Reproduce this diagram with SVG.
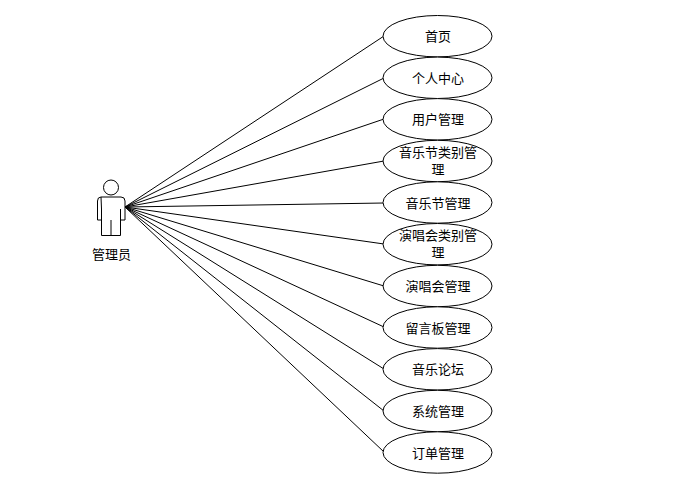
<svg xmlns="http://www.w3.org/2000/svg" width="695" height="480" viewBox="0 0 695 480">
<style>
.l{stroke:#000;stroke-width:1;fill:none}
.e{fill:#fff;stroke:#000;stroke-width:1}
.a{fill:#fff;stroke:#000;stroke-width:1}
text{font-family:"Noto Sans CJK SC","Liberation Sans",sans-serif;font-size:13px;fill:#000;text-anchor:middle}
</style>
<rect width="695" height="480" fill="#fff"/>
<g id="connectors">
<line class="l" x1="125" y1="207" x2="384" y2="36"/>
<line class="l" x1="125" y1="207" x2="384" y2="78"/>
<line class="l" x1="125" y1="207" x2="384" y2="119"/>
<line class="l" x1="125" y1="207" x2="384" y2="161"/>
<line class="l" x1="125" y1="207" x2="384" y2="203"/>
<line class="l" x1="125" y1="207" x2="384" y2="244"/>
<line class="l" x1="125" y1="207" x2="384" y2="286"/>
<line class="l" x1="125" y1="207" x2="384" y2="327"/>
<line class="l" x1="125" y1="207" x2="384" y2="369"/>
<line class="l" x1="125" y1="207" x2="384" y2="411"/>
<line class="l" x1="125" y1="207" x2="384" y2="452"/>
</g>
<g id="actor">
<circle class="a" cx="111" cy="187.500" r="7.500"/>
<path class="a" d="M101 197H121Q125 197 125 201V220H120.500V209M120.500 220V235.500H101.500V220M101.500 209V220H97.500V201Q97.500 197 101 197ZM111 235.500V220"/>
<text x="111.500" y="259">管理员</text>
</g>
<g id="n1"><ellipse class="e" cx="437.500" cy="36.200" rx="54.500" ry="20.700"/><text x="438" y="41">首页</text></g>
<g id="n2"><ellipse class="e" cx="437.500" cy="77.800" rx="54.500" ry="20.700"/><text x="438" y="83">个人中心</text></g>
<g id="n3"><ellipse class="e" cx="437.500" cy="119.300" rx="54.500" ry="20.700"/><text x="438" y="124">用户管理</text></g>
<g id="n4"><ellipse class="e" cx="437.500" cy="161" rx="54.500" ry="20.700"/><text y="157"><tspan x="438">音乐节类别管</tspan><tspan x="438" dy="17">理</tspan></text></g>
<g id="n5"><ellipse class="e" cx="437.500" cy="202.500" rx="54.500" ry="20.700"/><text x="438" y="208">音乐节管理</text></g>
<g id="n6"><ellipse class="e" cx="437.500" cy="244.200" rx="54.500" ry="20.700"/><text y="240"><tspan x="438">演唱会类别管</tspan><tspan x="438" dy="17">理</tspan></text></g>
<g id="n7"><ellipse class="e" cx="437.500" cy="286" rx="54.500" ry="20.700"/><text x="438" y="291">演唱会管理</text></g>
<g id="n8"><ellipse class="e" cx="437.500" cy="327.500" rx="54.500" ry="20.700"/><text x="438" y="333">留言板管理</text></g>
<g id="n9"><ellipse class="e" cx="437.500" cy="369.300" rx="54.500" ry="20.700"/><text x="438" y="374">音乐论坛</text></g>
<g id="n10"><ellipse class="e" cx="437.500" cy="411" rx="54.500" ry="20.700"/><text x="438" y="416">系统管理</text></g>
<g id="n11"><ellipse class="e" cx="437.500" cy="452.500" rx="54.500" ry="20.700"/><text x="438" y="458">订单管理</text></g>
</svg>
